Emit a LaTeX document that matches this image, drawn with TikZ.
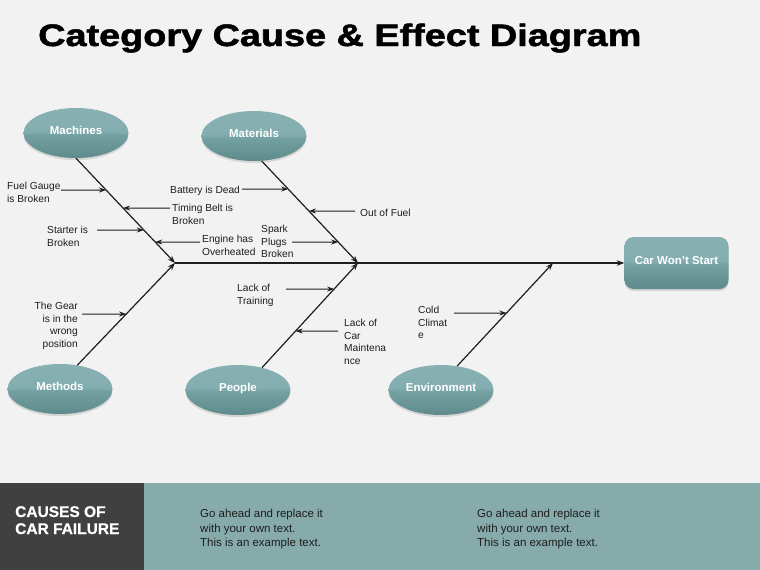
\documentclass[tikz,border=0pt]{standalone}
\usepackage{fontspec}
\setmainfont{Liberation Sans}
\usetikzlibrary{arrows.meta, positioning, shapes.geometric, shadows}
\definecolor{bgc}{HTML}{F2F2F2}
\definecolor{tealL}{HTML}{86B0B1}
\definecolor{tealM}{HTML}{73A0A1}
\definecolor{tealD}{HTML}{5E8A8B}
\definecolor{bandc}{HTML}{87ABAB}
\definecolor{darkbox}{HTML}{404040}
\definecolor{inkc}{HTML}{1E1E1E}
\pgfdeclareverticalshading{gloss}{100bp}{color(0bp)=(tealD); color(25bp)=(tealD); color(48bp)=(tealM); color(52bp)=(tealL!85!tealM); color(75bp)=(tealL); color(100bp)=(tealL)}

\tikzset{
  catnode/.style={ellipse, shading=gloss, minimum width=105pt, minimum height=50pt,
    inner sep=0pt, text=white, font=\fontsize{11.5}{13}\selectfont\bfseries,
    text height=6pt, text depth=4pt,
    drop shadow={opacity=0.25, shadow xshift=0pt, shadow yshift=-2pt}},
  effectnode/.style={rectangle, rounded corners=9pt, shading=gloss, minimum width=104pt,
    minimum height=52pt, inner sep=0pt, text=white, font=\fontsize{11.5}{13}\selectfont\bfseries,
    text height=6pt, text depth=4pt,
    drop shadow={opacity=0.25, shadow xshift=0pt, shadow yshift=-2pt}},
  causetext/.style={font=\fontsize{10.2}{12.7}\selectfont, text=inkc, inner sep=0pt, align=left},
  bone/.style={draw=inkc, line width=1.2pt, -{Stealth[length=7.5pt,width=5.5pt]}},
  causearrow/.style={draw=inkc, line width=1pt, -{Stealth[length=7pt,width=5pt]}},
  bandtext/.style={font=\fontsize{11.5}{14.5}\selectfont, text=inkc, inner sep=0pt, align=left}
}

\begin{document}
\begin{tikzpicture}[x=1pt, y=-1pt]
  % canvas and footer band
  \fill[bgc] (0,0) rectangle (760,570);
  \useasboundingbox (0,0) rectangle (760,570);
  \fill[bandc] (0,483) rectangle (760,570);
  \fill[darkbox] (0,483) rectangle (144,570);

  % title
  \node[anchor=base west, inner sep=0pt] (title) at (38,46)
    {\scalebox{1.22}[1]{\fontsize{31}{36}\selectfont\bfseries\addfontfeatures{FakeBold=1.6}Category Cause \& Effect Diagram}};

  % categories and effect
  \node[catnode] (mach) at (76,133) {Machines};
  \node[catnode] (mat) at (254,136) {Materials};
  \node[catnode] (meth) at (60,389) {Methods};
  \node[catnode] (peop) at (238,390) {People};
  \node[catnode] (env) at (441,390) {Environment};
  \node[effectnode] (effect) at (676.5,263) {Car Won't Start};

  % spine and bones
  \coordinate (j1) at (175,263);
  \coordinate (j2) at (358,263);
  \coordinate (j3) at (553,263);
  \coordinate (b1) at (mach.south);
  \coordinate (b2) at (mat.-73);
  \coordinate (b3) at (meth.54);
  \coordinate (b4) at (peop.43);
  \coordinate (b5) at (env.56);
  \draw[bone] (j1) -- (effect.west);
  \draw[bone] (b1) -- (j1);
  \draw[bone] (b2) -- (j2);
  \draw[bone] (b3) -- (j1);
  \draw[bone] (b4) -- (j2);
  \draw[bone] (b5) -- (j3);

  % cause labels
  \node[causetext, anchor=north west] (fuel) at (7,182) {Fuel Gauge\\is Broken};
  \node[causetext, anchor=north west] (battery) at (170,186) {Battery is Dead};
  \node[causetext, anchor=north west] (timing) at (172,204) {Timing Belt is\\Broken};
  \node[causetext, anchor=north west] (starter) at (47,226) {Starter is\\Broken};
  \node[causetext, anchor=north west] (engine) at (202,235) {Engine has\\Overheated};
  \node[causetext, anchor=north west] (spark) at (261,225) {Spark\\Plugs\\Broken};
  \node[causetext, anchor=north west] (outfuel) at (360,209) {Out of Fuel};
  \node[causetext, anchor=north east, align=right] (gear) at (78,302) {The Gear\\is in the\\wrong\\position};
  \node[causetext, anchor=north west] (training) at (237,284) {Lack of\\Training};
  \node[causetext, anchor=north west] (maint) at (344,319) {Lack of\\Car\\Maintena\\nce};
  \node[causetext, anchor=north west] (cold) at (418,306) {Cold\\Climat\\e};

  % cause arrows
  \coordinate (fuelt) at (61,190);
  \coordinate (batt) at (242,189);
  \coordinate (timt) at (170,208);
  \coordinate (stt) at (97,230);
  \coordinate (engt) at (200,242);
  \coordinate (sparkt) at (292,242);
  \coordinate (outt) at (355,211);
  \coordinate (geart) at (82,314);
  \coordinate (traint) at (286,289);
  \coordinate (maintt) at (338,331);
  \coordinate (coldt) at (454,313);
  \draw[causearrow] (fuelt) -- (intersection of b1--j1 and 0,190--10,190);
  \draw[causearrow] (timt) -- (intersection of b1--j1 and 0,208--10,208);
  \draw[causearrow] (stt) -- (intersection of b1--j1 and 0,230--10,230);
  \draw[causearrow] (engt) -- (intersection of b1--j1 and 0,242--10,242);
  \draw[causearrow] (batt) -- (intersection of b2--j2 and 0,189--10,189);
  \draw[causearrow] (outt) -- (intersection of b2--j2 and 0,211--10,211);
  \draw[causearrow] (sparkt) -- (intersection of b2--j2 and 0,242--10,242);
  \draw[causearrow] (geart) -- (intersection of b3--j1 and 0,314--10,314);
  \draw[causearrow] (traint) -- (intersection of b4--j2 and 0,289--10,289);
  \draw[causearrow] (maintt) -- (intersection of b4--j2 and 0,331--10,331);
  \draw[causearrow] (coldt) -- (intersection of b5--j3 and 0,313--10,313);

  % footer texts
  \node[anchor=north west, inner sep=0pt, align=left, text=white,
    font=\fontsize{15.5}{17}\selectfont\bfseries\addfontfeatures{FakeBold=0.8}] (bandhead) at (15,506) {CAUSES OF\\CAR FAILURE};
  \node[bandtext, anchor=north west] (note1) at (200,509) {Go ahead and replace it\\with your own text.\\This is an example text.};
  \node[bandtext, anchor=north west] (note2) at (477,509) {Go ahead and replace it\\with your own text.\\This is an example text.};
\end{tikzpicture}
\end{document}
